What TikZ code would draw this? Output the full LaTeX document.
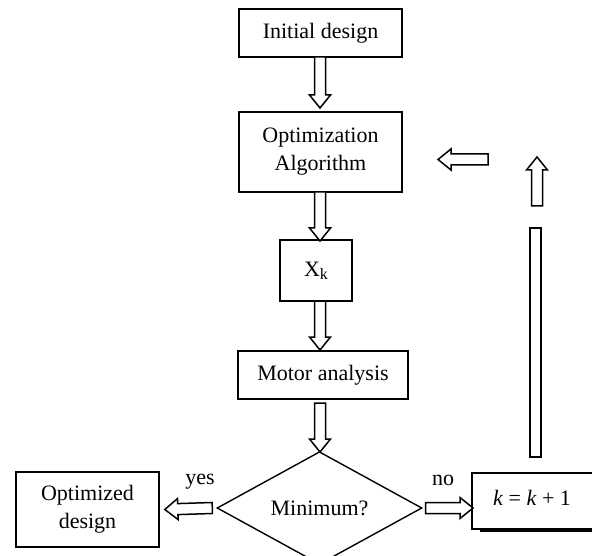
\documentclass[tikz,border=0pt]{standalone}
\usepackage{fontspec}
\setmainfont{Liberation Serif}
\usetikzlibrary{calc,shapes.geometric}
\tikzset{
  box/.style={draw, line width=1.6pt, rectangle, inner sep=0pt, align=center,
    font=\fontsize{22}{28}\selectfont},
  dia/.style={draw, line width=1.4pt, diamond, inner sep=0pt,
    font=\fontsize{22}{28}\selectfont},
  lbl/.style={inner sep=0pt, font=\fontsize{22}{28}\selectfont},
  barrow/.style={draw, line width=1.5pt, fill=white, line join=miter},
}
\newcommand{\blockarrow}[2]{%
  \coordinate (ba-h) at ($(#2)!13pt!(#1)$);
  \draw[barrow] ($(#1)!5.5pt!90:(#2)$) -- ($(ba-h)!5.5pt!-90:(#1)$)
    -- ($(ba-h)!10.5pt!-90:(#1)$) -- (#2) -- ($(ba-h)!10.5pt!90:(#1)$)
    -- ($(ba-h)!5.5pt!90:(#1)$) -- ($(#1)!5.5pt!-90:(#2)$) -- cycle;}
\begin{document}
\begin{tikzpicture}[x=1pt,y=-1pt]
\useasboundingbox (0,0) rectangle (592,556);
\clip (0,0) rectangle (592,556);
% boxes
\node[box, minimum width=163pt, minimum height=48pt] (init) at (320.5,33) {Initial design};
\node[box, minimum width=163pt, minimum height=80pt] (opt) at (320.5,152) {Optimization\\Algorithm};
\node[box, minimum width=72pt, minimum height=61pt] (xk) at (316,270.5)
  {X\raisebox{-3.3pt}{\fontsize{16}{16}\selectfont k}};
\node[box, minimum width=170pt, minimum height=48pt] (motor) at (323,375) {Motor analysis};
\node[dia, minimum width=205pt, minimum height=101pt] (dec) at (319.5,508) {Minimum?};
\node[box, minimum width=143pt, minimum height=75pt] (optd) at (87.5,509.5) {Optimized\\design};
% k box with shadow
\fill (480,528.5) rectangle (600,532);
\node[box, fill=white, minimum width=128pt, minimum height=56pt] (kbox) at (536,501)
  {\hspace{-8pt}\textit{k} = \textit{k} + 1\raisebox{0pt}[0pt][6pt]{}};
% labels
\node[lbl] (yes) at (200,482) {yes};
\node[lbl] (no) at (443,480) {no};
% main flow arrows
\coordinate (a1s) at (320,57);
\coordinate (a1e) at (320,108);
\blockarrow{a1s}{a1e}
\coordinate (a2s) at (320,192);
\coordinate (a2e) at (320,241);
\blockarrow{a2s}{a2e}
\coordinate (a3s) at (320,301);
\coordinate (a3e) at (320,350);
\blockarrow{a3s}{a3e}
\coordinate (a4s) at (320,403);
\coordinate (a4e) at (320,452);
\blockarrow{a4s}{a4e}
% yes / no arrows
\coordinate (ys) at ($(dec.west)+(-4,0)$);
\coordinate (ye) at ($(optd.east)+(5,0)$);
\blockarrow{ys}{ye}
\coordinate (ns) at ($(dec.east)+(3,0)$);
\coordinate (ne) at (473,508);
\blockarrow{ns}{ne}
% loop back pieces
\draw[line width=1.5pt] (530,228) rectangle (541,457);
\coordinate (us) at (537,206);
\coordinate (ue) at (537,157);
\blockarrow{us}{ue}
\coordinate (ls) at (488,159.5);
\coordinate (le) at (438,159.5);
\blockarrow{ls}{le}
\end{tikzpicture}
\end{document}
